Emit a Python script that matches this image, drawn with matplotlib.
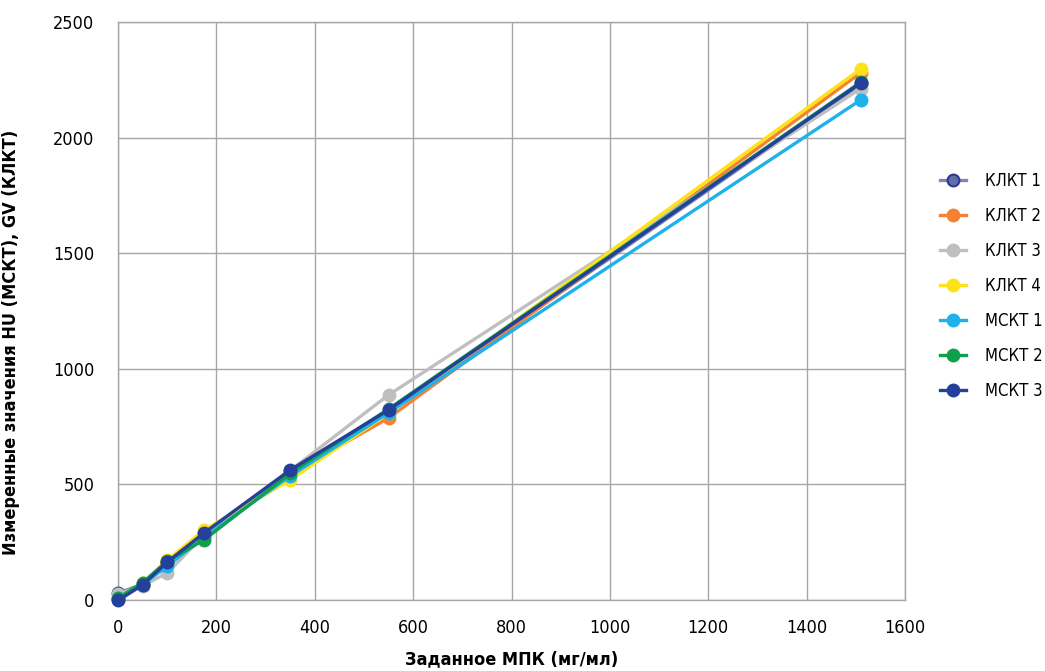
import matplotlib
matplotlib.use("Agg")
import matplotlib.pyplot as plt

plt.rcParams['font.family'] = ['DejaVu Sans']
plt.rcParams['font.stretch'] = 'condensed'

x = [0, 50, 100, 175, 350, 550, 1510]
klkt1 = [30, 68, 160, 285, 560, 815, 2230]
klkt2 = [5, 70, 165, 290, 545, 787, 2280]
klkt3 = [25, 62, 117, 280, 560, 887, 2212]
klkt4 = [5, 72, 172, 303, 519, 808, 2297]
mskt1 = [3, 66, 147, 272, 536, 810, 2163]
mskt2 = [8, 75, 168, 260, 548, 826, 2240]
mskt3 = [-2, 65, 164, 290, 562, 822, 2236]

series = [
    ("КЛКТ 1", klkt1, '#7d88b3', '#5f6fae', '#2e3a8c'),
    ("КЛКТ 2", klkt2, '#f58233', '#f58233', '#f58233'),
    ("КЛКТ 3", klkt3, '#bfbfbf', '#bfbfbf', '#bfbfbf'),
    ("КЛКТ 4", klkt4, '#ffe11a', '#ffe11a', '#ffe11a'),
    ("МСКТ 1", mskt1, '#1eb1ec', '#1eb1ec', '#1eb1ec'),
    ("МСКТ 2", mskt2, '#0ea04b', '#0ea04b', '#0ea04b'),
    ("МСКТ 3", mskt3, '#25409a', '#25409a', '#25409a'),
]

fig = plt.figure(figsize=(10.45, 6.71), dpi=100)
ax = fig.add_axes([118/1045, 71/671, 787/1045, 578/671])

for name, y, lc, mf, me in series:
    ax.plot(x, y, color=lc, lw=2.4, marker='o', ms=8.5, mfc=mf, mec=me,
            mew=1.5, label=name, clip_on=False, zorder=3)

ax.set_xlim(0, 1600)
ax.set_ylim(0, 2500)
ax.set_xticks(range(0, 1601, 200))
ax.set_yticks(range(0, 2501, 500))
ax.grid(True, color='#a6a6a6', lw=1.0, zorder=0)
for s in ax.spines.values():
    s.set_color('#a6a6a6')
    s.set_linewidth(1.0)
ax.tick_params(length=0, labelsize=13, colors='black')
ax.tick_params(axis='x', pad=14)
ax.tick_params(axis='y', pad=17)

ax.set_xlabel("Заданное МПК (мг/мл)", fontsize=13, fontweight='bold', labelpad=9)
ax.set_ylabel("Измеренные значения HU (МСКТ), GV (КЛКТ)", fontsize=13, fontweight='bold')
ax.yaxis.set_label_coords((20 - 118) / 787, (600 - 342) / 578)

leg = fig.legend(loc='upper left', bbox_to_anchor=(940/1045, 1 - 172/671), frameon=False,
                 fontsize=12, handlelength=1.55, labelspacing=1.02, handletextpad=1.15,
                 borderaxespad=0, borderpad=0)

fig.savefig("out.png", dpi=100)
